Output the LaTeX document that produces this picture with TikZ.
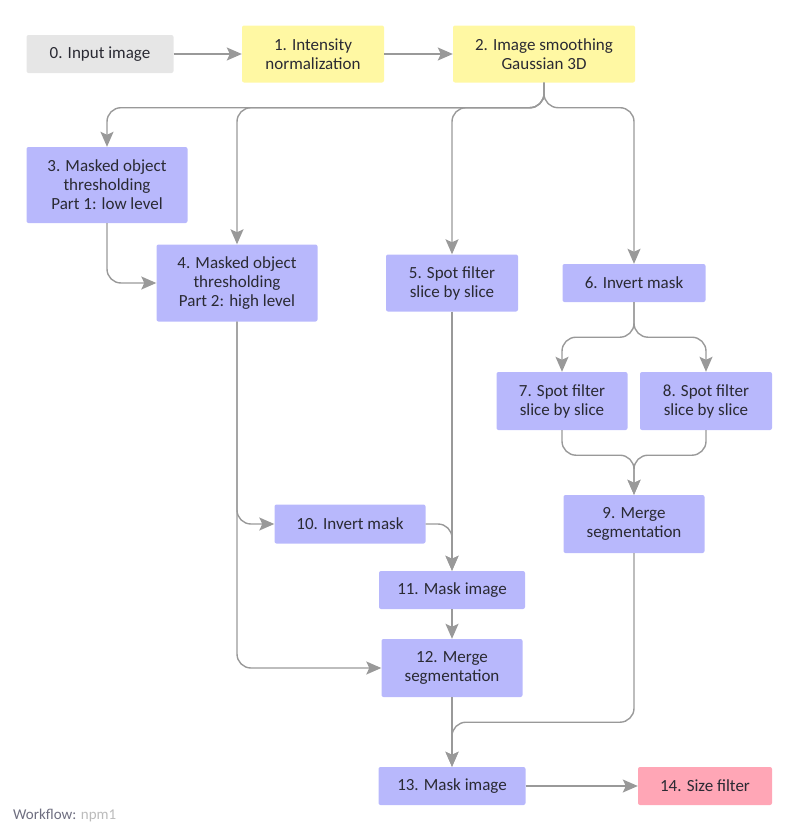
\documentclass[tikz,border=0pt]{standalone}
\usepackage{fontspec}
\setmainfont{Carlito}
\usetikzlibrary{arrows.meta}
\definecolor{stepgray}{HTML}{E6E6E6}
\definecolor{stepyellow}{HTML}{FFF8A3}
\definecolor{steppurple}{HTML}{B8B8FC}
\definecolor{steppink}{HTML}{FFA6B6}
\definecolor{linkgray}{HTML}{999999}
\definecolor{textdark}{HTML}{2A2A33}
\tikzset{
  stepbox/.style={fill=steppurple, rounded corners=2pt, align=center, inner sep=0pt,
    text=textdark, font=\fontsize{17}{19}\selectfont},
  flow/.style={draw=linkgray, line width=1.4pt, rounded corners=14pt,
    -{Stealth[length=15pt, width=13pt, inset=3pt]}}
}
\begin{document}
\begin{tikzpicture}[x=1pt, y=-1pt]
            \useasboundingbox (0,0) rectangle (800,835);
            \node [stepbox, fill=stepgray, minimum width=147, minimum height=38] (n0) at (100,54) {0. Input image};
            \node [stepbox, fill=stepyellow, minimum width=142, minimum height=57] (n1) at (313,54) {1. Intensity\\normalization};
            \node [stepbox, fill=stepyellow, minimum width=182, minimum height=57] (n2) at (544,54) {2. Image smoothing\\Gaussian 3D};
            \node [stepbox, minimum width=161, minimum height=76] (n3) at (107,185) {3. Masked object\\thresholding\\Part 1: low level};
            \node [stepbox, minimum width=161, minimum height=77] (n4) at (237,283) {4. Masked object\\thresholding\\Part 2: high level};
            \node [stepbox, minimum width=132, minimum height=57] (n5) at (452,283) {5. Spot filter\\slice by slice};
            \node [stepbox, minimum width=143, minimum height=38] (n6) at (634,283) {6. Invert mask};
            \node [stepbox, minimum width=131, minimum height=58] (n7) at (562,401) {7. Spot filter\\slice by slice};
            \node [stepbox, minimum width=132, minimum height=58] (n8) at (706,401) {8. Spot filter\\slice by slice};
            \node [stepbox, minimum width=141, minimum height=58] (n9) at (634,524) {9. Merge\\segmentation};
            \node [stepbox, minimum width=151, minimum height=39] (n10) at (350,524) {10. Invert mask};
            \node [stepbox, minimum width=146, minimum height=38] (n11) at (452,590) {11. Mask image};
            \node [stepbox, minimum width=141, minimum height=58] (n12) at (452,668) {12. Merge\\segmentation};
            \node [stepbox, minimum width=147, minimum height=38] (n13) at (452,786) {13. Mask image};
            \node [stepbox, fill=steppink, minimum width=134, minimum height=38] (n14) at (705,786) {14. Size filter};
            \node [right, inner sep=0pt, font=\fontsize{15}{17}\selectfont] (wf) at (13,815) {\textcolor[HTML]{6E6E80}{Workflow:} \textcolor[HTML]{BBBBBB}{npm1}};
            \draw [flow] (n0)--(n1);
            \draw [flow] (n1)--(n2);
            \draw [flow] (n2.south)-- ++(0,25) -|(n3.north);
            \draw [flow] (n2.south)-- ++(0,25) -|(n4.north);
            \draw [flow] (n2.south)-- ++(0,25) -|(n5.north);
            \draw [flow] (n2.south)-- ++(0,25) -|(n6.north);
            \draw [flow] (n3.south)|-(n4.west);
            \draw [flow] (n4.south)|-(n10.west);
            \draw [flow] (n4.south)|-(n12.west);
            \draw [flow] (n5.south)--(n11.north);
            \draw [flow] (n10.east)-|(n11.north);
            \draw [flow] (n6.south)-- ++(0,35) -|(n7.north);
            \draw [flow] (n6.south)-- ++(0,35) -|(n8.north);
            \draw [flow] (n7.south)-- ++(0,25) -|(n9.north);
            \draw [flow] (n8.south)-- ++(0,25) -|(n9.north);
            \draw [flow] (n11)--(n12);
            \draw [flow] (n12)--(n13);
            \draw [flow] (n9.south)-- ++(0,169) -|(n13.north);
            \draw [flow] (n13)--(n14);
        \end{tikzpicture}
\end{document}
